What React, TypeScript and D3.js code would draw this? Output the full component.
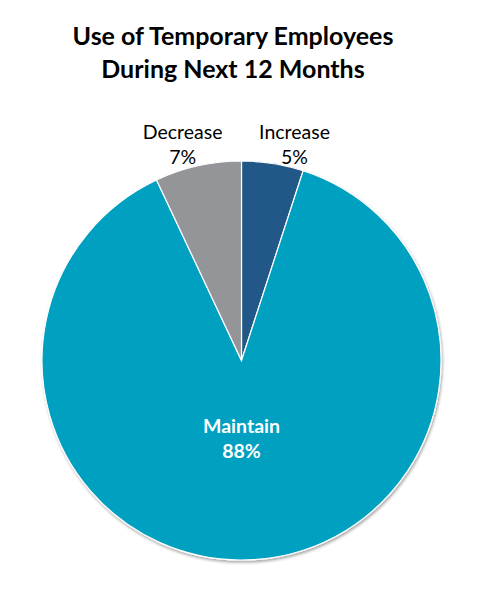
import React from "react";
import * as d3 from "d3";

const categories = ["Increase", "Maintain", "Decrease"];
const values = [5, 88, 7];
const colors = ["#245888", "#00A0C0", "#939598"];
const titleLines = ["Use of Temporary Employees", "During Next 12 Months"];

const W = 486;
const H = 605;
const cx = 241.5;
const cy = 360.5;
const R = 199.5;

export default function App() {
  const pie = d3.pie<number>().sort(null).value((d) => d).startAngle(0).endAngle(2 * Math.PI);
  const arcs = pie(values);
  const arcGen = d3.arc<d3.PieArcDatum<number>>().innerRadius(0).outerRadius(R);
  const labelArc = d3.arc<d3.PieArcDatum<number>>().innerRadius(R + 20).outerRadius(R + 20);
  const innerArc = d3.arc<d3.PieArcDatum<number>>().innerRadius(0).outerRadius(0);
  const fmt = (v: number) => `${v}%`;

  // outside label nudges (Excel best-fit placement)
  const nudges: Record<string, [number, number]> = {
    Increase: [18.7, -4.7],
    Decrease: [-11, -7.3],
  };

  return (
    <svg width={W} height={H} style={{ display: "block", position: "absolute", left: 0, top: 0 }}>
      <rect width={W} height={H} fill="#ffffff" />
      <defs>
        <filter id="sh" x="-10%" y="-10%" width="120%" height="120%">
          <feGaussianBlur in="SourceAlpha" stdDeviation="1.5" />
          <feOffset dx="0.5" dy="1.5" result="b" />
          <feComponentTransfer>
            <feFuncA type="linear" slope="0.35" />
          </feComponentTransfer>
          <feMerge>
            <feMergeNode />
            <feMergeNode in="SourceGraphic" />
          </feMerge>
        </filter>
      </defs>
      {titleLines.map((t, i) => (
        <text
          key={t}
          x={233}
          y={45 + i * 33}
          textAnchor="middle"
          fontFamily="Lato, 'Open Sans', sans-serif"
          fontWeight={700}
          fontSize={25}
          fill="#000"
        >
          {t}
        </text>
      ))}
      <g transform={`translate(${cx},${cy})`}>
        <g filter="url(#sh)">
          {arcs.map((a, i) => (
            <path key={categories[i]} d={arcGen(a) || ""} fill={colors[i]} stroke="#ffffff" strokeWidth={1.2} />
          ))}
        </g>
        {arcs.map((a, i) => {
          const name = categories[i];
          if (name === "Maintain") {
            const [x, y] = innerArc.centroid(a);
            return (
              <g key={name} fontFamily="Lato, 'Open Sans', sans-serif" fontWeight={700} fontSize={19.5} fill="#ffffff" textAnchor="middle">
                <text x={x} y={y + 72}>{name}</text>
                <text x={x} y={y + 97}>{fmt(values[i])}</text>
              </g>
            );
          }
          const [lx, ly] = labelArc.centroid(a);
          const [dx, dy] = nudges[name];
          return (
            <g key={name} fontFamily="Lato, 'Open Sans', sans-serif" fontSize={19.5} fill="#000" textAnchor="middle">
              <text x={lx + dx} y={ly + dy}>{name}</text>
              <text x={lx + dx} y={ly + dy + 25}>{fmt(values[i])}</text>
            </g>
          );
        })}
      </g>
    </svg>
  );
}
